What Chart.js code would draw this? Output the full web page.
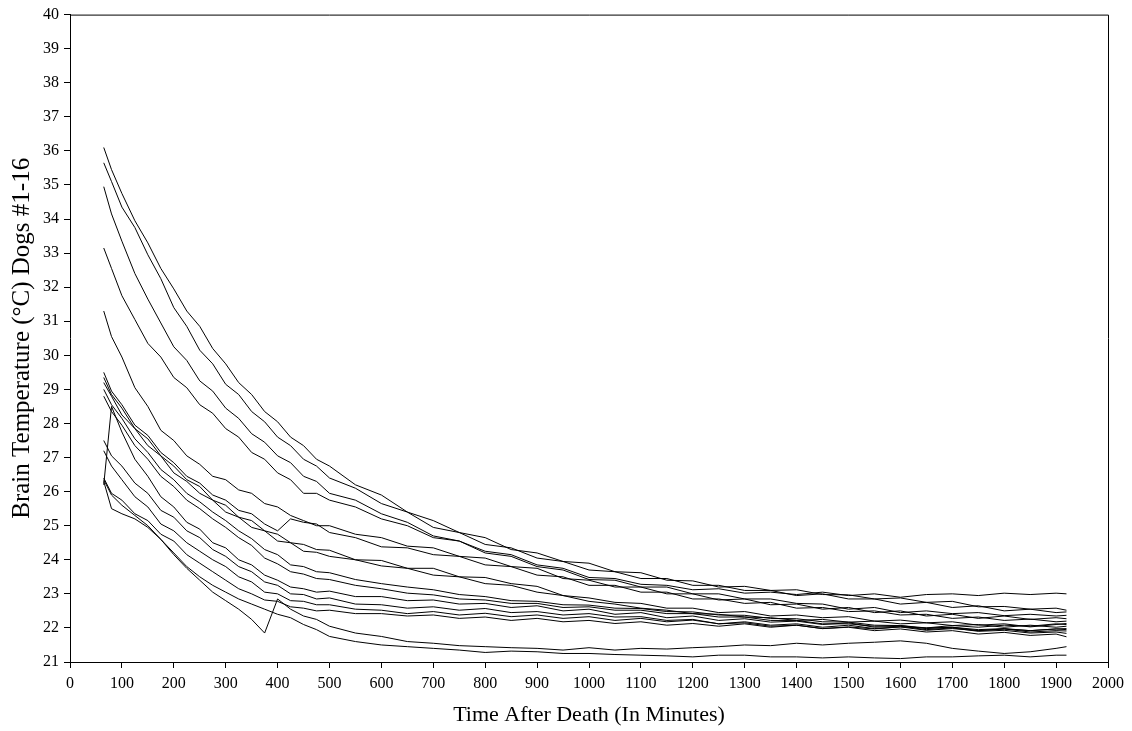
<!DOCTYPE html>
<html>
<head>
<meta charset="utf-8">
<title>Brain temperature after death</title>
<script src="https://cdn.jsdelivr.net/npm/chart.js@4.4.1/dist/chart.umd.min.js"></script>
<style>
  html, body { margin: 0; padding: 0; background: #fff; }
  #wrap { width: 1132px; height: 731px; }
</style>
</head>
<body>
<div id="wrap"><canvas id="brainChart"></canvas></div>
<script>
// Sample times (minutes after death) shared by all dogs
const minutes = [65, 80, 100, 125, 150, 175, 200, 225, 250, 275, 300, 325, 350, 375, 400, 425, 450, 475, 500,
                 550, 600, 650, 700, 750, 800, 850, 900, 950, 1000, 1050, 1100, 1150, 1200, 1250, 1300,
                 1350, 1400, 1450, 1500, 1550, 1600, 1650, 1700, 1750, 1800, 1850, 1900, 1920];

// Brain temperature (°C) per dog
const dog01 = [36.1, 35.45, 34.75, 33.95, 33.3, 32.55, 31.95, 31.3, 30.85, 30.2, 29.75, 29.2, 28.85, 28.35, 28.05, 27.6,
               27.35, 26.95, 26.75, 26.2, 25.9, 25.4, 25.15, 24.8, 24.65, 24.3, 24.2, 23.95, 23.9, 23.65, 23.62, 23.4,
               23.38, 23.2, 23.22, 23.1, 23.12, 22.98, 22.97, 22.85, 22.88, 22.75, 22.78, 22.62, 22.63, 22.55, 22.58, 22.52];
const dog02 = [31.3, 30.55, 29.95, 29.05, 28.5, 27.8, 27.5, 27.05, 26.8, 26.45, 26.35, 26.05, 25.95, 25.65, 25.55, 25.3,
               25.15, 25.0, 25.0, 24.75, 24.65, 24.4, 24.35, 24.1, 24.05, 23.8, 23.75, 23.45, 23.4, 23.2, 23.2, 23.0,
               23.0, 22.82, 22.85, 22.68, 22.7, 22.55, 22.6, 22.45, 22.5, 22.35, 22.4, 22.28, 22.35, 22.25, 22.3, 22.27];
const dog03 = [35.65, 35.1, 34.35, 33.75, 32.95, 32.25, 31.4, 30.85, 30.15, 29.75, 29.15, 28.85, 28.35, 28.05, 27.6, 27.35,
               26.95, 26.75, 26.4, 26.1, 25.65, 25.4, 24.95, 24.8, 24.45, 24.35, 24.05, 23.95, 23.7, 23.65, 23.45, 23.45,
               23.25, 23.25, 23.1, 23.1, 22.95, 23.0, 22.85, 22.85, 22.7, 22.75, 22.6, 22.65, 22.5, 22.55, 22.45, 22.47];
const dog04 = [34.95, 34.15, 33.35, 32.4, 31.65, 30.95, 30.25, 29.85, 29.25, 28.95, 28.45, 28.15, 27.7, 27.45, 27.05, 26.85,
               26.45, 26.3, 25.95, 25.75, 25.35, 25.1, 24.7, 24.55, 24.2, 24.1, 23.8, 23.7, 23.42, 23.4, 23.2, 23.2,
               23.0, 23.0, 22.85, 22.85, 22.72, 22.7, 22.55, 22.6, 22.45, 22.5, 22.42, 22.45, 22.36, 22.4, 22.35, 22.37];
const dog05 = [33.15, 32.55, 31.75, 31.05, 30.35, 29.95, 29.35, 29.05, 28.55, 28.3, 27.85, 27.6, 27.15, 26.95, 26.55, 26.35,
               25.95, 25.95, 25.75, 25.55, 25.2, 25.0, 24.65, 24.55, 24.25, 24.15, 23.85, 23.75, 23.48, 23.45, 23.28, 23.25,
               23.12, 23.15, 23.02, 23.05, 22.98, 23.05, 22.95, 23.0, 22.9, 22.98, 23.0, 22.95, 23.02, 22.98, 23.02, 23.0];
const dog06 = [29.5, 28.95, 28.55, 27.95, 27.65, 27.15, 26.85, 26.45, 26.25, 25.9, 25.75, 25.45, 25.35, 25.05, 24.85, 25.2,
               25.1, 25.05, 24.8, 24.65, 24.38, 24.35, 24.15, 24.1, 23.85, 23.8, 23.55, 23.5, 23.25, 23.25, 23.05, 23.05,
               22.85, 22.85, 22.72, 22.75, 22.58, 22.6, 22.48, 22.5, 22.38, 22.4, 22.28, 22.32, 22.22, 22.26, 22.18, 22.2];
const dog07 = [29.35, 28.85, 28.45, 27.85, 27.55, 27.05, 26.75, 26.35, 26.15, 25.75, 25.6, 25.25, 25.15, 24.85, 24.75, 24.5,
               24.45, 24.3, 24.28, 24.0, 23.98, 23.75, 23.75, 23.5, 23.48, 23.3, 23.22, 22.95, 22.88, 22.75, 22.72, 22.58,
               22.58, 22.45, 22.48, 22.35, 22.38, 22.3, 22.33, 22.2, 22.23, 22.15, 22.18, 22.08, 22.12, 22.03, 22.1, 22.13];
const dog08 = [29.2, 28.8, 28.25, 27.85, 27.35, 27.05, 26.55, 26.3, 25.95, 25.75, 25.4, 25.25, 24.95, 24.85, 24.55, 24.5,
               24.25, 24.22, 24.1, 24.0, 23.82, 23.75, 23.55, 23.5, 23.3, 23.25, 23.05, 22.95, 22.78, 22.7, 22.58, 22.52,
               22.42, 22.4, 22.32, 22.3, 22.22, 22.25, 22.17, 22.2, 22.12, 22.15, 22.07, 22.1, 22.02, 22.08, 22.02, 22.05];
const dog09 = [29.0, 28.55, 28.15, 27.55, 27.15, 26.65, 26.35, 25.95, 25.7, 25.4, 25.15, 24.85, 24.62, 24.3, 24.15, 23.85,
               23.8, 23.65, 23.62, 23.42, 23.3, 23.2, 23.12, 22.98, 22.92, 22.8, 22.78, 22.68, 22.67, 22.58, 22.57, 22.48,
               22.47, 22.38, 22.37, 22.28, 22.27, 22.18, 22.17, 22.08, 22.07, 22.0, 22.02, 21.95, 21.98, 21.92, 21.97, 21.98];
const dog10 = [28.8, 28.35, 27.95, 27.35, 26.95, 26.45, 26.15, 25.75, 25.5, 25.2, 24.95, 24.65, 24.42, 24.05, 23.88, 23.65,
               23.58, 23.45, 23.42, 23.25, 23.15, 23.02, 22.97, 22.85, 22.82, 22.72, 22.72, 22.6, 22.62, 22.52, 22.52, 22.42,
               22.42, 22.32, 22.32, 22.22, 22.22, 22.12, 22.12, 22.05, 22.07, 21.98, 22.02, 21.92, 21.97, 21.88, 21.92, 21.91];
const dog11 = [26.2, 28.5, 27.75, 26.95, 26.45, 25.85, 25.55, 25.1, 24.9, 24.5, 24.35, 24.0, 23.85, 23.55, 23.4, 23.2,
               23.15, 23.05, 23.08, 22.92, 22.92, 22.8, 22.82, 22.7, 22.72, 22.6, 22.65, 22.5, 22.55, 22.4, 22.45, 22.3,
               22.35, 22.22, 22.27, 22.17, 22.2, 22.1, 22.15, 22.02, 22.05, 21.95, 22.0, 21.9, 21.93, 21.85, 21.88, 21.84];
const dog12 = [27.5, 27.05, 26.75, 26.25, 25.95, 25.45, 25.25, 24.85, 24.65, 24.3, 24.1, 23.8, 23.65, 23.35, 23.25, 23.0,
               22.98, 22.85, 22.88, 22.7, 22.68, 22.58, 22.62, 22.52, 22.57, 22.45, 22.48, 22.38, 22.42, 22.32, 22.33, 22.22,
               22.25, 22.12, 22.15, 22.05, 22.08, 21.98, 22.02, 21.92, 21.97, 21.88, 21.92, 21.82, 21.87, 21.78, 21.82, 21.74];
const dog13 = [27.2, 26.75, 26.35, 25.85, 25.55, 25.05, 24.85, 24.5, 24.25, 24.0, 23.8, 23.5, 23.35, 23.05, 23.0, 22.8,
               22.78, 22.68, 22.68, 22.55, 22.52, 22.42, 22.48, 22.38, 22.43, 22.33, 22.38, 22.28, 22.33, 22.22, 22.28, 22.18,
               22.23, 22.12, 22.18, 22.08, 22.12, 22.02, 22.08, 21.98, 22.03, 21.93, 21.98, 21.92, 21.97, 21.92, 21.97, 21.95];
const dog14 = [26.4, 25.95, 25.75, 25.35, 25.15, 24.75, 24.55, 24.15, 23.9, 23.65, 23.4, 23.15, 23.0, 22.82, 22.78, 22.62,
               22.58, 22.5, 22.52, 22.42, 22.42, 22.35, 22.38, 22.28, 22.32, 22.22, 22.28, 22.18, 22.22, 22.13, 22.18, 22.08,
               22.13, 22.05, 22.12, 22.02, 22.08, 21.98, 22.03, 21.97, 22.03, 22.0, 22.07, 22.02, 22.08, 22.05, 22.12, 22.1];
const dog15 = [26.3, 25.5, 25.35, 25.2, 24.95, 24.6, 24.15, 23.75, 23.4, 23.05, 22.8, 22.55, 22.25, 21.85, 22.85, 22.55,
               22.35, 22.25, 22.05, 21.85, 21.75, 21.6, 21.55, 21.48, 21.45, 21.42, 21.4, 21.35, 21.42, 21.35, 21.4, 21.38,
               21.42, 21.45, 21.5, 21.48, 21.55, 21.5, 21.55, 21.58, 21.62, 21.55, 21.4, 21.32, 21.25, 21.3, 21.4, 21.45];
const dog16 = [26.35, 25.9, 25.6, 25.3, 25.0, 24.6, 24.2, 23.8, 23.5, 23.25, 23.05, 22.85, 22.7, 22.55, 22.4, 22.3,
               22.1, 21.95, 21.75, 21.6, 21.5, 21.45, 21.4, 21.35, 21.28, 21.32, 21.3, 21.25, 21.25, 21.22, 21.2, 21.18,
               21.15, 21.2, 21.2, 21.15, 21.15, 21.12, 21.15, 21.12, 21.1, 21.15, 21.15, 21.18, 21.2, 21.15, 21.2, 21.2];

const allDogs = [dog01, dog02, dog03, dog04, dog05, dog06, dog07, dog08,
                 dog09, dog10, dog11, dog12, dog13, dog14, dog15, dog16];

const serif = '"Liberation Serif", "Times New Roman", serif';

// draws the top and right edges of the plot box
const boxFrame = {
    id: 'boxFrame',
    afterDraw(chart) {
        const a = chart.chartArea;
        const ctx = chart.ctx;
        ctx.save();
        ctx.strokeStyle = '#000';
        ctx.lineWidth = 1;
        ctx.beginPath();
        ctx.moveTo(a.left, a.top + 0.5);
        ctx.lineTo(a.right + 0.5, a.top + 0.5);
        ctx.lineTo(a.right + 0.5, a.bottom);
        ctx.stroke();
        ctx.restore();
    }
};

const datasets = allDogs.map((vals, i) => ({
    label: 'Dog #' + (i + 1),
    data: minutes.map((m, j) => ({ x: m, y: vals[j] })),
    borderColor: '#000',
    borderWidth: 1,
    pointRadius: 0,
    tension: 0,
    fill: false
}));

new Chart(document.getElementById('brainChart'), {
    type: 'line',
    data: { datasets: datasets },
    options: {
        responsive: true,
        maintainAspectRatio: false,
        animation: false,
        layout: { padding: { left: 0, right: 24, top: 13, bottom: 0 } },
        plugins: {
            legend: { display: false },
            tooltip: { enabled: false }
        },
        scales: {
            x: {
                type: 'linear',
                min: 0,
                max: 2000,
                afterFit: (scale) => { scale.height = 69; },
                ticks: {
                    stepSize: 100,
                    color: '#000',
                    padding: 6,
                    maxRotation: 0,
                    autoSkip: false,
                    font: { family: serif, size: 16 },
                    callback: (value) => String(value)
                },
                grid: {
                    drawOnChartArea: false,
                    drawTicks: true,
                    tickLength: 6,
                    tickColor: '#000'
                },
                border: { color: '#000', width: 1 },
                title: {
                    display: true,
                    text: 'Time After Death (In Minutes)',
                    color: '#000',
                    font: { family: serif, size: 22 },
                    padding: { top: 0, bottom: 3 }
                }
            },
            y: {
                type: 'linear',
                min: 21,
                max: 40,
                afterFit: (scale) => { scale.width = 70; },
                ticks: {
                    stepSize: 1,
                    color: '#000',
                    padding: 5,
                    font: { family: serif, size: 16 },
                    callback: (value) => String(value)
                },
                grid: {
                    drawOnChartArea: false,
                    drawTicks: true,
                    tickLength: 6,
                    tickColor: '#000'
                },
                border: { color: '#000', width: 1 },
                title: {
                    display: true,
                    text: 'Brain Temperature (°C) Dogs #1-16',
                    color: '#000',
                    font: { family: serif, size: 25 },
                    padding: { top: 7, bottom: 0 }
                }
            }
        }
    },
    plugins: [boxFrame]
});
</script>
</body>
</html>
